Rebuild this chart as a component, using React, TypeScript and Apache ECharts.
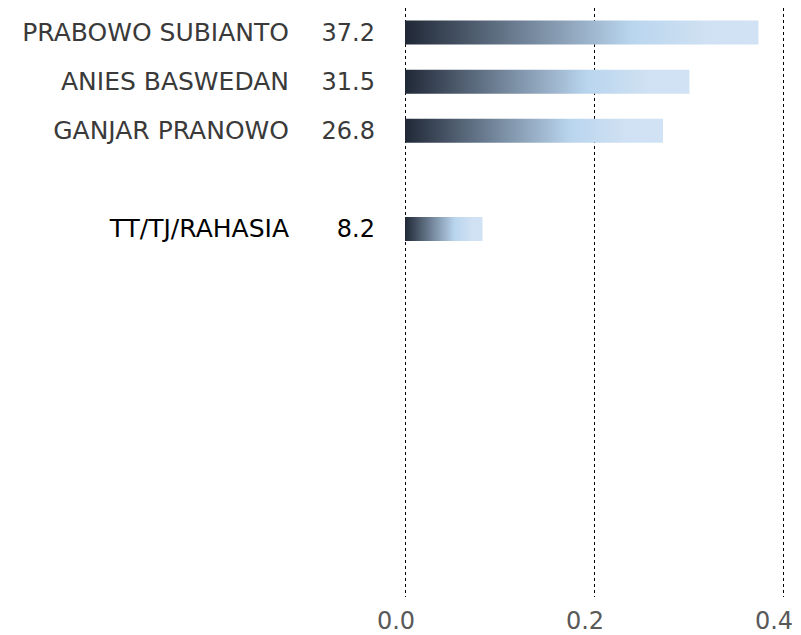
import React, { useEffect, useRef } from "react";
import * as echarts from "echarts";

const categories = [
  "PRABOWO SUBIANTO",
  "ANIES BASWEDAN",
  "GANJAR PRANOWO",
  "",
  "TT/TJ/RAHASIA",
  "", "", "", "", "", "", "",
];
const valueLabels = ["37.2", "31.5", "26.8", "", "8.2", "", "", "", "", "", "", ""];
const barValues: (number | null)[] = [0.374, 0.301, 0.273, null, 0.082, null, null, null, null, null, null, null];
const xTicks = [0, 0.2, 0.4];

const FONT = "DejaVu Sans";

export default function App() {
  const ref = useRef<HTMLDivElement>(null);
  useEffect(() => {
    if (!ref.current) return;
    const chart = echarts.init(ref.current, undefined, { renderer: "svg" });
    const grad = new echarts.graphic.LinearGradient(0, 0, 1, 0, [
      { offset: 0, color: "#202836" },
      { offset: 0.33, color: "#6f8196" },
      { offset: 0.64, color: "#b9d5ee" },
      { offset: 0.85, color: "#cfe1f2" },
      { offset: 1, color: "#d0e2f3" },
    ]);
    chart.setOption({
      animation: false,
      grid: { left: 405, right: 18, top: 8, bottom: 38, containLabel: false },
      xAxis: {
        type: "value",
        min: xTicks[0],
        max: xTicks[xTicks.length - 1],
        interval: 0.2,
        axisLine: { show: false },
        axisTick: { show: false },
        splitLine: { show: true, lineStyle: { type: [3, 3], color: "#000", width: 1 } },
        axisLabel: {
          formatter: (v: number) => v.toFixed(1),
          fontFamily: FONT,
          fontSize: 24,
          color: "#595959",
          margin: 12,
          padding: [0, 18, 0, 0],
        },
      },
      yAxis: [
        {
          type: "category",
          data: categories,
          inverse: true,
          axisLine: { show: false },
          axisTick: { show: false },
          splitLine: { show: false },
          axisLabel: {
            margin: 30,
            fontFamily: FONT,
            fontSize: 24,
            color: "#3a3a3a",
            interval: 0,
            formatter: (_: string, i: number) => {
              const v = valueLabels[i];
              return i === 4 ? "{b|" + v + "}" : v;
            },
            rich: { b: { fontFamily: FONT, fontSize: 24, color: "#000" } },
          },
        },
        {
          type: "category",
          data: categories,
          inverse: true,
          position: "left",
          axisLine: { show: false },
          axisTick: { show: false },
          splitLine: { show: false },
          axisLabel: {
            margin: 116,
            fontFamily: FONT,
            fontSize: 25,
            color: "#3a3a3a",
            interval: 0,
            formatter: (v: string, i: number) => (i === 4 ? "{b|" + v + "}" : v),
            rich: { b: { fontFamily: FONT, fontSize: 25, color: "#000" } },
          },
        },
      ],
      series: [
        {
          type: "bar",
          data: barValues,
          barWidth: 24,
          itemStyle: { color: grad },
        },
      ],
    });
    return () => chart.dispose();
  }, []);
  return <div ref={ref} style={{ width: 801, height: 635, position: "absolute", left: 0, top: 0 }} />;
}
